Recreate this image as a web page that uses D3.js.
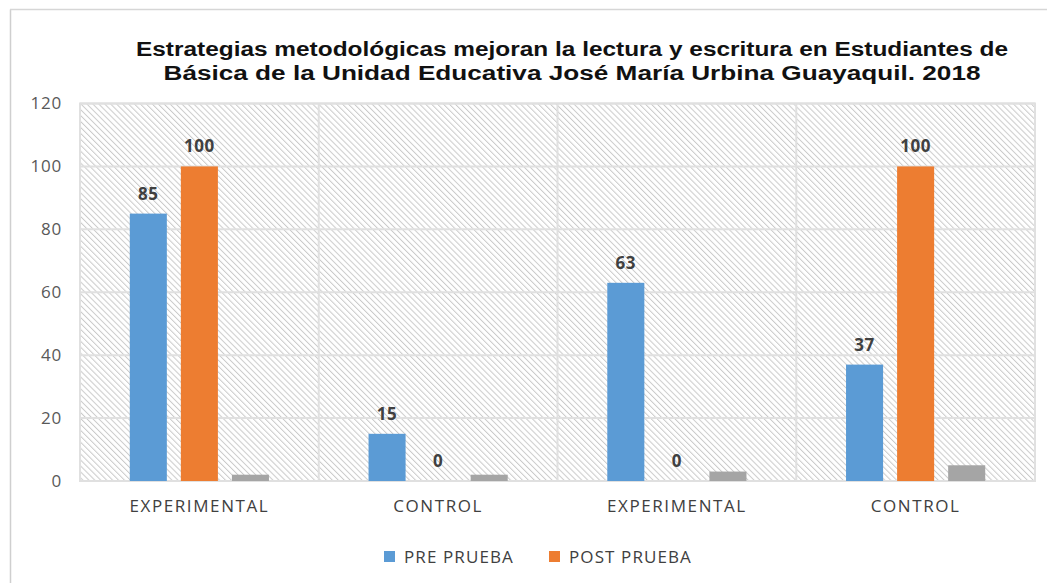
<!DOCTYPE html>
<html>
<head>
<meta charset="utf-8">
<script src="https://cdn.jsdelivr.net/npm/d3@7"></script>
<style>
  body { margin: 0; background: #fff; }
  svg { font-family: "Liberation Sans", Arial, sans-serif; }
</style>
</head>
<body>
<div id="chart"></div>
<script>
// data
const categories = ["EXPERIMENTAL", "CONTROL", "EXPERIMENTAL ", "CONTROL "];
const series = ["PRE PRUEBA", "POST PRUEBA", "extra"];
const preValues = [85, 15, 63, 37];
const postValues = [100, 0, 0, 100];
const extraValues = [2, 2, 3, 5]; // small grey bars, no label / legend
const yTicks = [0, 20, 40, 60, 80, 100, 120];
const titleLines = [
  "Estrategias metodológicas mejoran la lectura y escritura en Estudiantes de",
  "Básica de la Unidad Educativa José María Urbina Guayaquil. 2018"
];

const width = 1047;
const height = 583;
const plot = { left: 80, right: 1035, top: 103.5, bottom: 481 };
const colors = { "PRE PRUEBA": "#5B9BD5", "POST PRUEBA": "#ED7D31", extra: "#A5A5A5" };
const labelFont = "'Open Sans', sans-serif";

const rows = categories.map((c, i) => ({
  cat: c,
  vals: [
    { key: "PRE PRUEBA", value: preValues[i], label: true },
    { key: "POST PRUEBA", value: postValues[i], label: true },
    { key: "extra", value: extraValues[i], label: false }
  ]
}));

const svg = d3
  .select("#chart")
  .append("svg")
  .attr("width", width)
  .attr("height", height);

// chart frame (only left and top edges show in the picture)
svg.append("line").attr("x1", 10.5).attr("x2", 10.5).attr("y1", 9.5).attr("y2", height)
  .attr("stroke", "#cfcfcf").attr("stroke-width", 1.5);
svg.append("line").attr("x1", 10).attr("x2", width).attr("y1", 9.5).attr("y2", 9.5)
  .attr("stroke", "#d6d6d6").attr("stroke-width", 1.5);

// hatch pattern, lines running top-left to bottom-right
const defs = svg.append("defs");
const pat = defs.append("pattern")
  .attr("id", "hatch")
  .attr("patternUnits", "userSpaceOnUse")
  .attr("width", 4.2)
  .attr("height", 4.2)
  .attr("patternTransform", "rotate(-45)");
pat.append("rect").attr("width", 4.2).attr("height", 4.2).attr("fill", "#fff");
pat.append("line").attr("x1", 0.5).attr("y1", 0).attr("x2", 0.5).attr("y2", 4.2)
  .attr("stroke", "#cacaca").attr("stroke-width", 1);

const x0 = d3.scaleBand().domain(categories).range([plot.left, plot.right]).padding(0);
const x1 = d3.scaleBand().domain(series).range([0, x0.bandwidth()])
  .paddingInner(0.2745).paddingOuter(0.975);
const y = d3.scaleLinear().domain([0, 120]).range([plot.bottom, plot.top]);

// plot background
svg.append("rect")
  .attr("x", plot.left).attr("y", plot.top)
  .attr("width", plot.right - plot.left).attr("height", plot.bottom - plot.top)
  .attr("fill", "url(#hatch)")
  .attr("stroke", "#e0e0e0").attr("stroke-width", 2);

// horizontal gridlines
svg.append("g")
  .selectAll("line")
  .data(yTicks)
  .join("line")
  .attr("x1", plot.left).attr("x2", plot.right)
  .attr("y1", (d) => y(d)).attr("y2", (d) => y(d))
  .attr("stroke", "#e0e0e0").attr("stroke-width", 2);

// vertical gridlines between categories
svg.append("g")
  .selectAll("line")
  .data(categories.slice(1))
  .join("line")
  .attr("x1", (d) => x0(d)).attr("x2", (d) => x0(d))
  .attr("y1", plot.top).attr("y2", plot.bottom)
  .attr("stroke", "#e0e0e0").attr("stroke-width", 2);

// y axis labels
const yAxis = d3.axisLeft(y).tickValues(yTicks).tickSize(0).tickPadding(18);
svg.append("g")
  .attr("transform", `translate(${plot.left},0)`)
  .call(yAxis)
  .call((g) => g.select(".domain").remove())
  .selectAll("text")
  .attr("fill", "#595959")
  .style("font-size", "17px")
  .style("letter-spacing", "0.8px")
  .style("font-family", labelFont);

// x axis labels
const xAxis = d3.axisBottom(x0).tickSize(0).tickPadding(19);
svg.append("g")
  .attr("transform", `translate(0,${plot.bottom})`)
  .call(xAxis)
  .call((g) => g.select(".domain").remove())
  .selectAll("text")
  .attr("fill", "#404040")
  .style("font-size", "17px")
  .style("letter-spacing", "1.6px")
  .style("font-family", labelFont);

// bars
const group = svg.append("g")
  .selectAll("g")
  .data(rows)
  .join("g")
  .attr("transform", (d) => `translate(${x0(d.cat)},0)`);

group.selectAll("rect")
  .data((d) => d.vals)
  .join("rect")
  .attr("x", (d) => x1(d.key))
  .attr("width", x1.bandwidth())
  .attr("y", (d) => y(d.value))
  .attr("height", (d) => y(0) - y(d.value))
  .attr("fill", (d) => colors[d.key]);

// value labels
group.selectAll("text")
  .data((d) => d.vals.filter((v) => v.label))
  .join("text")
  .attr("x", (d) => x1(d.key) + x1.bandwidth() / 2)
  .attr("y", (d) => y(d.value) - 14)
  .attr("text-anchor", "middle")
  .attr("fill", "#404040")
  .style("font-size", "17px")
  .style("font-weight", "bold")
  .style("letter-spacing", "0.5px")
  .style("font-family", labelFont)
  .text((d) => d.value);

// title
svg.append("g")
  .selectAll("text")
  .data(titleLines)
  .join("text")
  .attr("x", 572)
  .attr("y", (d, i) => 56 + i * 24)
  .attr("text-anchor", "middle")
  .attr("fill", "#111")
  .style("font-size", "20px")
  .style("font-weight", "bold")
  .style("font-family", "'Liberation Sans', Arial, sans-serif")
  .attr("textLength", (d, i) => (i ? 817 : 872))
  .attr("lengthAdjust", "spacingAndGlyphs")
  .text((d) => d);

// legend
const legendItems = [
  { key: "PRE PRUEBA", x: 384 },
  { key: "POST PRUEBA", x: 549 }
];
const legend = svg.append("g")
  .selectAll("g")
  .data(legendItems)
  .join("g")
  .attr("transform", (d) => `translate(${d.x},557)`);
legend.append("rect")
  .attr("x", 0).attr("y", -6)
  .attr("width", 11).attr("height", 11)
  .attr("fill", (d) => colors[d.key]);
legend.append("text")
  .attr("x", 20).attr("y", 0)
  .attr("dy", "0.35em")
  .attr("fill", "#404040")
  .style("font-size", "17px")
  .style("letter-spacing", "1.1px")
  .style("font-family", labelFont)
  .text((d) => d.key);
</script>
</body>
</html>
